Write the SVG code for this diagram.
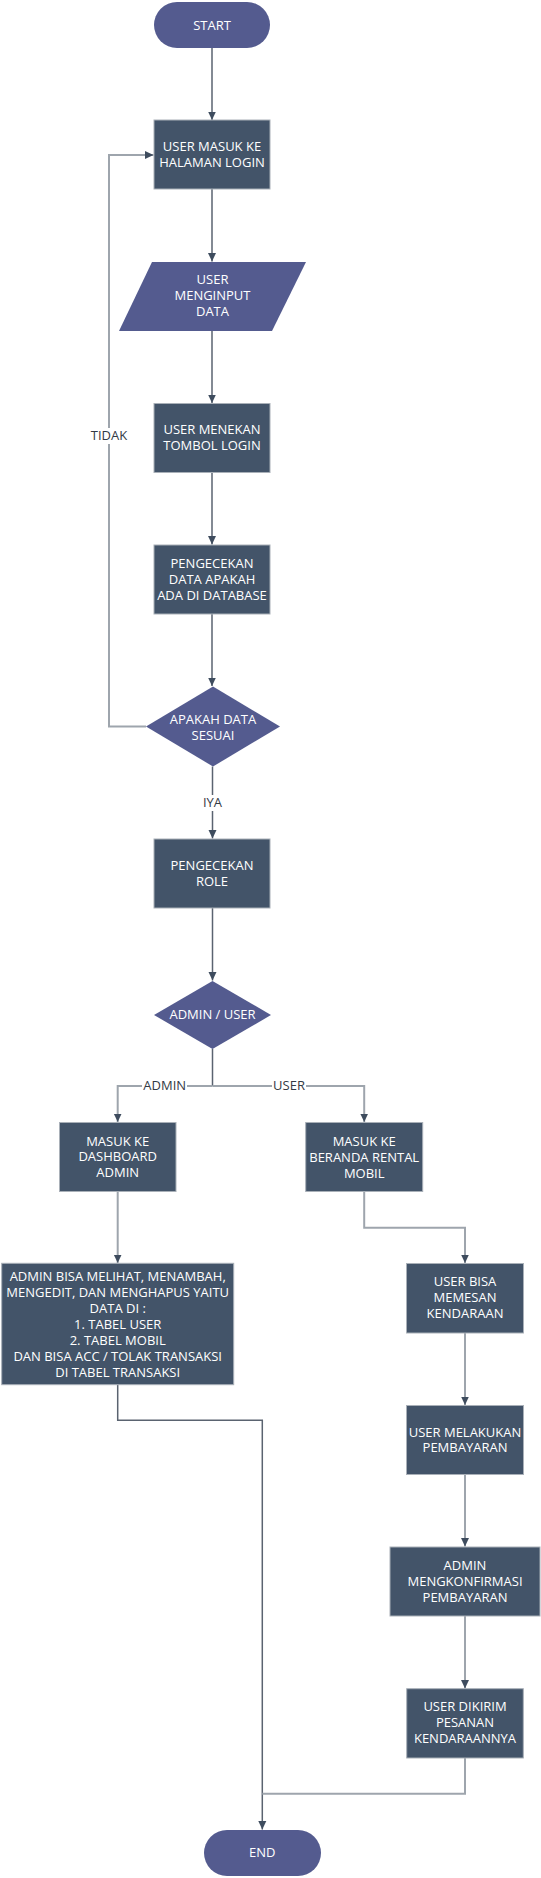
<svg xmlns="http://www.w3.org/2000/svg" width="541" height="1878" viewBox="0 0 541 1878">
<style>
  .term { fill: #545b8f; }
  .dec { fill: #545b8f; }
  .io { fill: #545b8f; }
  .proc { fill: #435469; stroke: #a9b0b8; stroke-width: 1; }
  .t { font-family: "Open Sans", "Noto Sans", "Liberation Sans", sans-serif; font-size: 13px; fill: #ffffff; text-anchor: middle; }
  .lbl { font-family: "Open Sans", "Noto Sans", "Liberation Sans", sans-serif; font-size: 13px; fill: #333a45; text-anchor: middle; }
  .bg { fill: #ffffff; }
  .dark { fill: none; stroke: #5a6370; stroke-width: 1.5; }
  .light { fill: none; stroke: #9ea5ad; stroke-width: 2; }
</style>
<defs>
  <marker id="arr" markerUnits="userSpaceOnUse" markerWidth="9" markerHeight="9" refX="8.5" refY="4.5" orient="auto" viewBox="0 0 9 9">
    <path d="M0,0.5 L8.5,4.5 L0,8.5 z" fill="#3e4c5e"/>
  </marker>
</defs>
<rect width="541" height="1878" fill="#ffffff"/>

<g id="connectors">
  <path class="dark" d="M212,48 V120" marker-end="url(#arr)"/>
  <path class="dark" d="M212,189 V261.5" marker-end="url(#arr)"/>
  <path class="dark" d="M212,331 V403" marker-end="url(#arr)"/>
  <path class="dark" d="M212,473 V544.5" marker-end="url(#arr)"/>
  <path class="dark" d="M212,614 V686" marker-end="url(#arr)"/>
  <path class="light" d="M146,726.5 H109 V155 H153.5" marker-end="url(#arr)"/>
  <path class="dark" d="M212.5,766.5 V838.5" marker-end="url(#arr)"/>
  <path class="dark" d="M212.5,908 V980.5" marker-end="url(#arr)"/>
  <path class="dark" d="M212.5,1049 V1086"/>
  <path class="light" d="M212.5,1086 H117.7 V1122" marker-end="url(#arr)"/>
  <path class="light" d="M212.5,1086 H364.2 V1122" marker-end="url(#arr)"/>
  <path class="light" d="M117.7,1191.5 V1263" marker-end="url(#arr)"/>
  <path class="dark" d="M117.7,1384.7 V1420.3 H262.3 V1829.5" marker-end="url(#arr)"/>
  <path class="light" d="M364.2,1191.5 V1227.7 H465 V1263" marker-end="url(#arr)"/>
  <path class="light" d="M465,1333 V1405" marker-end="url(#arr)"/>
  <path class="light" d="M465,1474.5 V1546.5" marker-end="url(#arr)"/>
  <path class="light" d="M465,1616 V1688.5" marker-end="url(#arr)"/>
  <path class="light" d="M465,1758 V1793.7 H262.3"/>
  <rect class="bg" x="90" y="428" width="38" height="16"/>
  <text class="lbl" x="109" y="440.4">TIDAK</text>
  <rect class="bg" x="201" y="795" width="23" height="16"/>
  <text class="lbl" x="212.5" y="807.4">IYA</text>
  <rect class="bg" x="142" y="1078" width="45" height="16"/>
  <text class="lbl" x="164.7" y="1090.4">ADMIN</text>
  <rect class="bg" x="272" y="1078" width="34" height="16"/>
  <text class="lbl" x="289" y="1090.4">USER</text>
</g>

<g id="start">
  <rect class="term" x="154" y="2" width="116" height="46" rx="23"/>
  <text class="t" x="212" y="29.7">START</text>
</g>
<g id="masuk-login">
  <rect class="proc" x="154" y="120" width="116" height="69"/>
  <text class="t" x="212" y="151.4">USER MASUK KE</text>
  <text class="t" x="212" y="167.4">HALAMAN LOGIN</text>
</g>
<g id="input-data">
  <polygon class="io" points="152,262 306,262 272,331 119,331"/>
  <text class="t" x="212.5" y="284">USER</text>
  <text class="t" x="212.5" y="300">MENGINPUT</text>
  <text class="t" x="212.5" y="316">DATA</text>
</g>
<g id="tombol-login">
  <rect class="proc" x="154" y="403.5" width="116" height="69"/>
  <text class="t" x="212" y="434">USER MENEKAN</text>
  <text class="t" x="212" y="450">TOMBOL LOGIN</text>
</g>
<g id="cek-database">
  <rect class="proc" x="154" y="545" width="116" height="69"/>
  <text class="t" x="212" y="568.4">PENGECEKAN</text>
  <text class="t" x="212" y="584.4">DATA APAKAH</text>
  <text class="t" x="212" y="600.2">ADA DI DATABASE</text>
</g>
<g id="data-sesuai">
  <polygon class="dec" points="213,686.5 280,726.5 213,766.5 146,726.5"/>
  <text class="t" x="213" y="723.7">APAKAH DATA</text>
  <text class="t" x="213" y="739.7">SESUAI</text>
</g>
<g id="cek-role">
  <rect class="proc" x="154" y="839" width="116" height="69"/>
  <text class="t" x="212" y="870.4">PENGECEKAN</text>
  <text class="t" x="212" y="886.4">ROLE</text>
</g>
<g id="admin-user">
  <polygon class="dec" points="212.5,981 271,1015 212.5,1049 154,1015"/>
  <text class="t" x="212.5" y="1019">ADMIN / USER</text>
</g>
<g id="dashboard-admin">
  <rect class="proc" x="59.5" y="1122.5" width="116.5" height="69"/>
  <text class="t" x="117.7" y="1145.7">MASUK KE</text>
  <text class="t" x="117.7" y="1161.4">DASHBOARD</text>
  <text class="t" x="117.7" y="1177">ADMIN</text>
</g>
<g id="beranda-rental">
  <rect class="proc" x="305.7" y="1122.5" width="117" height="69"/>
  <text class="t" x="364.2" y="1145.7">MASUK KE</text>
  <text class="t" x="364.2" y="1161.7">BERANDA RENTAL</text>
  <text class="t" x="364.2" y="1177.7">MOBIL</text>
</g>
<g id="admin-kelola">
  <rect class="proc" x="1.7" y="1263.3" width="232" height="121.4"/>
  <text class="t" x="117.7" y="1281">ADMIN BISA MELIHAT, MENAMBAH,</text>
  <text class="t" x="117.7" y="1297">MENGEDIT, DAN MENGHAPUS YAITU</text>
  <text class="t" x="117.7" y="1313">DATA DI :</text>
  <text class="t" x="117.7" y="1329">1. TABEL USER</text>
  <text class="t" x="117.7" y="1345">2. TABEL MOBIL</text>
  <text class="t" x="117.7" y="1361">DAN BISA ACC / TOLAK TRANSAKSI</text>
  <text class="t" x="117.7" y="1377">DI TABEL TRANSAKSI</text>
</g>
<g id="memesan">
  <rect class="proc" x="406.5" y="1263.5" width="117" height="69.5"/>
  <text class="t" x="465" y="1286.4">USER BISA</text>
  <text class="t" x="465" y="1302.4">MEMESAN</text>
  <text class="t" x="465" y="1318.4">KENDARAAN</text>
</g>
<g id="pembayaran">
  <rect class="proc" x="406.5" y="1405.5" width="117" height="69"/>
  <text class="t" x="465" y="1436.7">USER MELAKUKAN</text>
  <text class="t" x="465" y="1452.4">PEMBAYARAN</text>
</g>
<g id="konfirmasi">
  <rect class="proc" x="390" y="1547" width="150" height="69"/>
  <text class="t" x="465" y="1570.4">ADMIN</text>
  <text class="t" x="465" y="1586.4">MENGKONFIRMASI</text>
  <text class="t" x="465" y="1602.4">PEMBAYARAN</text>
</g>
<g id="dikirim">
  <rect class="proc" x="406.7" y="1688.7" width="116.6" height="69.3"/>
  <text class="t" x="465" y="1711.4">USER DIKIRIM</text>
  <text class="t" x="465" y="1727.4">PESANAN</text>
  <text class="t" x="465" y="1743.4">KENDARAANNYA</text>
</g>
<g id="end">
  <rect class="term" x="204" y="1830" width="117" height="46" rx="23"/>
  <text class="t" x="262.3" y="1857">END</text>
</g>
</svg>
